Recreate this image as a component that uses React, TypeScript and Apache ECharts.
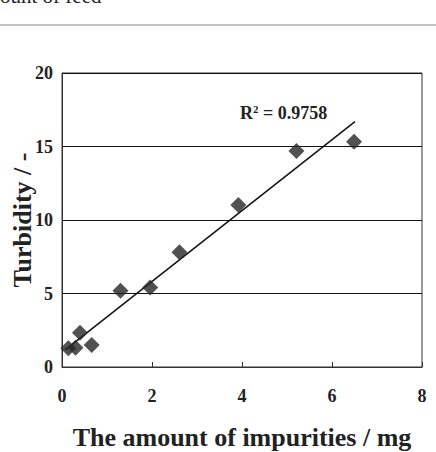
import React, { useEffect, useRef } from "react";
import * as echarts from "echarts";

const impurities = [0.14, 0.30, 0.40, 0.66, 1.30, 1.96, 2.61, 3.92, 5.21, 6.49];
const turbidity = [1.27, 1.31, 2.33, 1.50, 5.19, 5.40, 7.80, 11.02, 14.69, 15.33];
const trendX = [0.07, 6.51];
const trendY = [1.16, 16.69];
const xTicks = [0, 2, 4, 6, 8];
const yTicks = [0, 5, 10, 15, 20];
const r2Label = "0.9758";
const xTitle = "The amount of impurities / mg";
const yTitle = "Turbidity / -";
const topCaption = "ount of feed";

const SERIF = "'Liberation Serif', 'Times New Roman', serif";

export default function App() {
  const ref = useRef<HTMLDivElement>(null);
  useEffect(() => {
    if (!ref.current) return;
    const chart = echarts.init(ref.current, undefined, { renderer: "svg" });
    chart.setOption({
      animation: false,
      backgroundColor: "#ffffff",
      grid: {
        left: 62,
        top: 73,
        right: 14,
        bottom: 85,
        containLabel: false,
        outerBoundsMode: "none",
        show: true,
        borderColor: "#333",
        borderWidth: 1,
        backgroundColor: "transparent",
      },
      xAxis: {
        type: "value",
        min: xTicks[0],
        max: xTicks[xTicks.length - 1],
        interval: 2,
        axisLine: { show: true, lineStyle: { color: "#333", width: 1 } },
        axisTick: { show: true, inside: true, length: 5, lineStyle: { color: "#333" } },
        splitLine: { show: false },
        axisLabel: {
          margin: 20,
          color: "#222",
          fontFamily: SERIF,
          fontWeight: "bold",
          fontSize: 18,
        },
        name: xTitle,
        nameLocation: "middle",
        nameGap: 57,
        nameMoveOverlap: false,
        nameTextStyle: {
          color: "#222",
          fontFamily: SERIF,
          fontWeight: "bold",
          fontSize: 26,
        },
      },
      yAxis: {
        type: "value",
        min: yTicks[0],
        max: yTicks[yTicks.length - 1],
        interval: 5,
        axisLine: { show: true, lineStyle: { color: "#333", width: 1 } },
        axisTick: { show: false },
        splitLine: { show: true, lineStyle: { color: "#111", width: 1 } },
        axisLabel: {
          margin: 9,
          color: "#222",
          fontFamily: SERIF,
          fontWeight: "bold",
          fontSize: 18,
        },
        name: yTitle,
        nameLocation: "middle",
        nameGap: 27,
        nameMoveOverlap: false,
        nameTextStyle: {
          color: "#222",
          fontFamily: SERIF,
          fontWeight: "bold",
          fontSize: 26,
        },
      },
      graphic: [
        {
          type: "text",
          x: 0,
          y: -15,
          style: {
            text: topCaption,
            fontFamily: SERIF,
            fontSize: 21,
            fill: "#222",
          },
        },
        {
          type: "line",
          shape: { x1: 0, y1: 25, x2: 436, y2: 25 },
          style: { stroke: "#888", lineWidth: 1 },
        },
        {
          type: "text",
          x: 240,
          y: 103,
          style: {
            rich: {
              b: { fontFamily: SERIF, fontWeight: "bold", fontSize: 18, fill: "#222" },
              s: { fontFamily: SERIF, fontWeight: "bold", fontSize: 11, fill: "#222", verticalAlign: "top", padding: [0, 0, 9, 0] },
            },
            text: "{b|R}{s|2}{b| = " + r2Label + "}",
          },
        },
      ],
      series: [
        {
          type: "line",
          data: trendX.map((x, i) => [x, trendY[i]]),
          symbol: "none",
          lineStyle: { color: "#111", width: 1.5 },
          z: 2,
        },
        {
          type: "scatter",
          data: impurities.map((x, i) => [x, turbidity[i]]),
          symbol: "diamond",
          symbolSize: [16, 16],
          itemStyle: { color: "#262626" },
          z: 3,
        },
      ],
    });
    return () => chart.dispose();
  }, []);
  return (
    <div
      ref={ref}
      style={{ position: "absolute", left: 0, top: 0, width: 436, height: 452 }}
    />
  );
}
